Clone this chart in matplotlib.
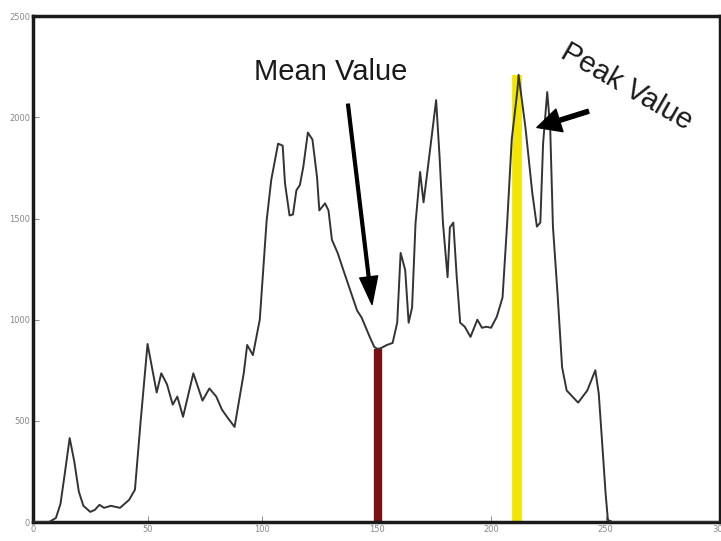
import matplotlib.pyplot as plt

# histogram curve (intensity level, pixel count)
levels = [0, 7, 10, 12, 14, 16, 18, 20, 22, 25, 27, 29, 31, 34, 38, 42, 44.5,
          47, 50, 54, 56, 58.5, 61, 63, 65.5, 70, 74, 77, 80, 82.5, 85, 88,
          92, 93.5, 96, 99, 102, 104, 107, 109, 110, 112, 113.5, 115, 116.5,
          118, 120, 122, 124, 125, 127.5, 129, 130.5, 133, 135.5, 138.5,
          141.5, 143.5, 147, 149, 150.5, 152, 154.5, 157, 159, 160.5, 162.5,
          164, 165.5, 167, 169, 170.5, 172, 174, 176, 177.5, 179, 181, 182,
          183.5, 185, 186.5, 188.5, 191, 194, 196, 198, 200, 202.5, 205, 207,
          209, 211.5, 212, 215, 218, 220, 221.5, 222.7, 224.5, 225.8, 227,
          229, 231, 233, 238, 242, 245.5, 247, 248.5, 250, 251, 253, 300]
counts = [0, 0, 20, 90, 250, 415, 300, 150, 80, 50, 60, 85, 70, 80, 70, 110,
          160, 500, 880, 640, 735, 680, 580, 620, 520, 735, 600, 660, 620,
          555, 515, 470, 735, 875, 825, 1000, 1490, 1690, 1870, 1860, 1675,
          1515, 1520, 1640, 1665, 1755, 1925, 1890, 1705, 1540, 1575, 1540,
          1395, 1330, 1245, 1145, 1045, 1010, 915, 865, 855, 860, 875, 885,
          985, 1330, 1245, 985, 1060, 1475, 1730, 1580, 1715, 1900, 2085,
          1805, 1475, 1210, 1455, 1480, 1210, 985, 965, 915, 1000, 960, 965,
          960, 1015, 1110, 1475, 1890, 2135, 2210, 1950, 1625, 1460, 1480,
          1870, 2125, 1950, 1460, 1130, 765, 650, 590, 650, 750, 635, 390,
          140, 10, 0, 0]

mean_level, mean_count = 150.5, 855
peak_level, peak_count = 211.5, 2210

fig = plt.figure(figsize=(7.21, 5.41), dpi=100)
ax = fig.add_axes([0.0458, 0.0351, 0.953, 0.935])

ax.vlines(mean_level, 0, mean_count, color='#7a1010', lw=6, zorder=2)
ax.vlines(peak_level, 0, peak_count, color='#f2e600', lw=7, zorder=2)
ax.plot(levels, counts, color='#333333', lw=1.4, zorder=3)

ax.set_xlim(0, 300)
ax.set_ylim(0, 2500)
ax.set_xticks(range(0, 301, 50))
ax.set_yticks(range(0, 2501, 500))
ax.tick_params(direction='in', length=4, width=0.6, color='#777777',
               labelsize=6, labelcolor='#888888', pad=2)
for s in ax.spines.values():
    s.set_linewidth(2.5)
    s.set_color('#1a1a1a')

font = 'Liberation Sans'
ax.text(130, 2225, 'Mean Value', fontsize=21, family=font, color='#1a1a1a',
        ha='center', va='center')
ax.annotate('', xy=(148, 1075), xytext=(137.5, 2065),
            arrowprops=dict(facecolor='black', edgecolor='black', width=2,
                            headwidth=13, headlength=20))
ax.text(259, 2150, 'Peak Value', fontsize=21, family=font, color='#1a1a1a',
        ha='center', va='center', rotation=-30, rotation_mode='anchor')
ax.annotate('', xy=(220, 1950), xytext=(242.5, 2030),
            arrowprops=dict(facecolor='black', edgecolor='black', width=3,
                            headwidth=17, headlength=17))

plt.savefig('out.png', dpi=100)
